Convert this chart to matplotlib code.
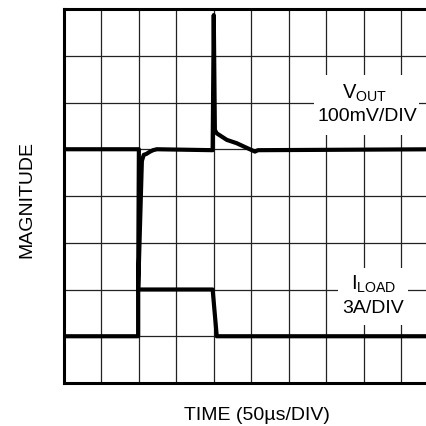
import matplotlib
matplotlib.use("Agg")
import matplotlib.pyplot as plt
from matplotlib.patches import Rectangle

plt.rcParams['font.family'] = ['Liberation Sans', 'DejaVu Sans']
plt.rcParams['mathtext.fontset'] = 'custom'
plt.rcParams['mathtext.rm'] = 'Liberation Sans'
plt.rcParams['mathtext.it'] = 'Liberation Sans'
plt.rcParams['mathtext.bf'] = 'Liberation Sans:bold'

# Oscilloscope-style traces, in divisions (x: 50us/div, y: grid divisions)
vout_t = [0, 2.0, 1.98, 2.08, 2.13, 2.2, 2.3, 2.38, 2.48, 3.97, 4.0, 4.03, 4.08, 4.35, 4.61, 4.88, 5.10, 5.18, 10]
vout_v = [5, 5, 1.98, 4.75, 4.88, 4.9, 4.95, 4.98, 5.0, 4.98, 7.87, 5.41, 5.34, 5.20, 5.13, 5.03, 4.95, 4.98, 5]
iload_t = [0, 1.98, 1.98, 3.97, 4.08, 10]
iload_v = [1, 1, 2, 2, 1, 1]

x_divs = list(range(0, 11))
y_divs = list(range(0, 9))

fig = plt.figure(figsize=(4.27, 4.26), dpi=100)
ax = fig.add_axes([64/427, 43/426, 374.4/427, 374/426])
ax.set_xlim(0, 10)
ax.set_ylim(0, 8)
ax.set_xticks(x_divs)
ax.set_yticks(y_divs)
ax.tick_params(length=0, labelbottom=False, labelleft=False)
ax.set_axisbelow(True)
ax.grid(True, color='#222222', lw=0.9)
for s in ax.spines.values():
    s.set_linewidth(2.2)
    s.set_color('black')

# label boxes (white background hiding grid)
ax.add_patch(Rectangle((6.68, 5.30), 2.80, 1.29, facecolor='white', edgecolor='none', zorder=1))
ax.add_patch(Rectangle((7.32, 1.24), 1.87, 1.22, facecolor='white', edgecolor='none', zorder=1))

ax.plot(vout_t, vout_v, color='black', lw=3.0, solid_joinstyle='round', zorder=2)
ax.plot(iload_t, iload_v, color='black', lw=3.0, solid_joinstyle='round', zorder=2)

fs = 14
ax.text(8.03, 6.09, r'V$_{\mathrm{OUT}}$', fontsize=14.5, ha='center', va='baseline', zorder=3)
ax.text(8.11, 5.61, '100mV/DIV', fontsize=fs, ha='center', va='baseline', zorder=3)
ax.text(8.28, 1.99, r'I$_{\mathrm{LOAD}}$', fontsize=14.5, ha='center', va='baseline', zorder=3)
ax.text(8.25, 1.50, '3A/DIV', fontsize=fs, ha='center', va='baseline', zorder=3)

fig.text(27/427, 1 - 200/426, 'MAGNITUDE', rotation=90, fontsize=14, ha='center', va='center')
fig.text(257/427, 1 - 416/426, 'TIME (50\u00b5s/DIV)', fontsize=14, ha='center', va='center')

fig.savefig('out.png', dpi=100)
